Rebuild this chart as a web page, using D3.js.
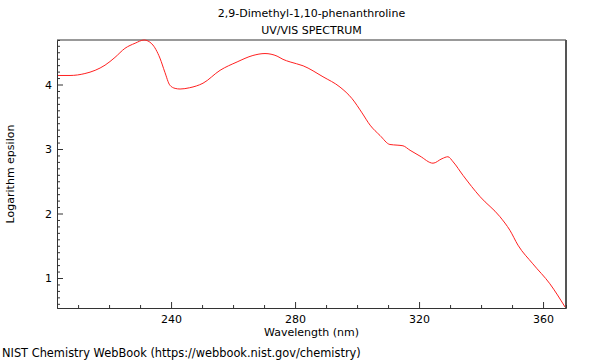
<!DOCTYPE html>
<html>
<head>
<meta charset="utf-8">
<script src="https://cdn.jsdelivr.net/npm/d3@7"></script>
<style>
  body { margin: 0; background: #fff; }
  text { font-family: "DejaVu Sans", sans-serif; font-size: 11px; fill: #000; }
</style>
</head>
<body>
<div id="chart"></div>
<script>
// spectrum
const wavelengths = [203.2, 207.4, 212.2, 215.5, 218.7, 221.9, 225.1, 228.4, 231.3, 233.8,
  236.4, 238.0, 239.6, 241.3, 242.9, 246.0, 250.3, 255.8, 261.3, 266.4, 270.3, 274.2,
  276.1, 278.4, 282.6, 289.0, 294.5, 298.4, 301.6, 304.2, 307.4, 310.6, 312.9, 314.8,
  317.1, 320.3, 324.5, 327.4, 329.3, 331.0, 334.2, 339.7, 346.1, 349.3, 351.9, 356.7,
  362.2, 367.1]
const logEps = [4.14, 4.14, 4.17, 4.22, 4.30, 4.42, 4.56, 4.64, 4.69, 4.63,
  4.41, 4.19, 3.99, 3.94, 3.93, 3.95, 4.02, 4.22, 4.35, 4.45, 4.48, 4.44,
  4.39, 4.35, 4.29, 4.12, 3.96, 3.78, 3.56, 3.37, 3.21, 3.07, 3.06, 3.05,
  2.98, 2.89, 2.78, 2.85, 2.88, 2.80, 2.59, 2.26, 1.95, 1.74, 1.51, 1.22,
  0.91, 0.55]
const xTicks = [240, 280, 320, 360]
const yTicks = [1, 2, 3, 4]

const width = 600,
  height = 360
const margin = { top: 40, right: 34, bottom: 52, left: 57 }
const plotW = width - margin.left - margin.right,
  plotH = height - margin.top - margin.bottom

let svg = d3.select('#chart')
  .append('svg')
  .attr('width', width)
  .attr('height', height)

let x = d3.scaleLinear().domain([203.2, 367.4]).range([0, plotW])
let y = d3.scaleLinear().domain([0.535, 4.69]).range([plotH, 0])

let g = svg.append('g')
  .attr('transform', `translate(${margin.left},${margin.top})`)

// titles
svg.append('text').attr('x', margin.left + plotW / 2).attr('y', 17)
  .attr('text-anchor', 'middle').text('2,9-Dimethyl-1,10-phenanthroline')
svg.append('text').attr('x', margin.left + plotW / 2).attr('y', 34)
  .attr('text-anchor', 'middle').text('UV/VIS SPECTRUM')

// frame: top and right
g.append('line').attr('x1', 0).attr('x2', plotW).attr('y1', 0).attr('y2', 0)
  .attr('stroke', '#999').attr('stroke-width', 2)
g.append('line').attr('x1', plotW).attr('x2', plotW).attr('y1', 0).attr('y2', plotH)
  .attr('stroke', '#555').attr('stroke-width', 2)

// curve
let line = d3.line()
  .x((d, i) => x(wavelengths[i]))
  .y(d => y(d))
  .curve(d3.curveMonotoneX)

g.append('path')
  .datum(logEps)
  .attr('fill', 'none')
  .attr('stroke', '#ff2020')
  .attr('stroke-width', 1)
  .attr('d', line)

// x axis, ticks pointing inward
let xAxis = g.append('g').attr('transform', `translate(0,${plotH})`)
xAxis.call(d3.axisBottom(x).tickValues(d3.range(210, 367, 10)).tickSize(-3).tickFormat(''))
xAxis.call(s => s.selectAll('.tick').filter(d => xTicks.includes(d)).select('line').attr('y2', -6))
xAxis.selectAll('.tick').filter(d => xTicks.includes(d)).append('text')
  .attr('y', 15).attr('text-anchor', 'middle').text(d => d)
xAxis.select('.domain').attr('stroke', '#333')
xAxis.selectAll('line').attr('stroke', '#333')

// y axis
let yAxis = g.append('g')
yAxis.call(d3.axisLeft(y).tickValues(d3.range(6, 47).map(v => v / 10)).tickSize(-3).tickFormat(''))
yAxis.selectAll('.tick').filter(d => yTicks.includes(Math.round(d * 10) / 10)).select('line').attr('x2', 6)
yAxis.selectAll('.tick').filter(d => yTicks.includes(Math.round(d * 10) / 10)).append('text')
  .attr('x', -5).attr('dy', '0.35em').attr('text-anchor', 'end').text(d => Math.round(d))
yAxis.select('.domain').attr('stroke', '#333')
yAxis.selectAll('line').attr('stroke', '#333')
svg.selectAll('.tick text').style('font-size', '11px').attr('fill', '#000')

// axis labels
svg.append('text').attr('x', margin.left + plotW / 2).attr('y', 336)
  .attr('text-anchor', 'middle').text('Wavelength (nm)')
svg.append('text').attr('transform', `translate(14,${margin.top + plotH / 2}) rotate(-90)`)
  .attr('text-anchor', 'middle').text('Logarithm epsilon')

svg.append('text').attr('x', 2).attr('y', 357).style('font-size', '11.4px')
  .text('NIST Chemistry WebBook (https://webbook.nist.gov/chemistry)')
</script>
</body>
</html>
